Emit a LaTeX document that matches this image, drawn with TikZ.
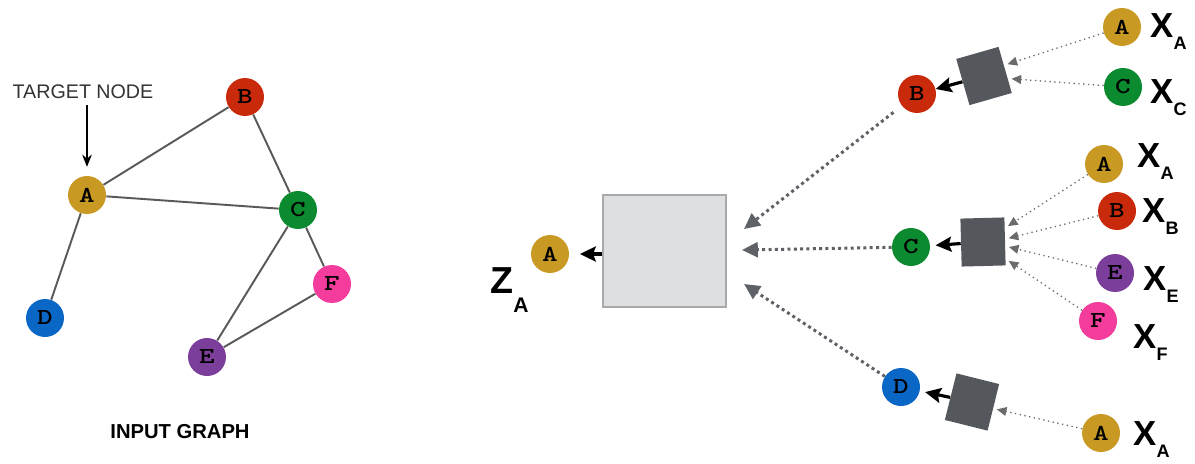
\documentclass[tikz,border=0pt]{standalone}
\usepackage{fontspec}
\setmainfont{Liberation Sans}
\usepackage{graphicx}
\usepackage{tikz}
\usetikzlibrary{arrows.meta}

\definecolor{nodeA}{HTML}{C89A24}
\definecolor{nodeB}{HTML}{C92A0C}
\definecolor{nodeC}{HTML}{0B8A2F}
\definecolor{nodeD}{HTML}{0A67C5}
\definecolor{nodeE}{HTML}{7B3E9B}
\definecolor{nodeF}{HTML}{F33C9B}
\definecolor{edgegray}{HTML}{595959}
\definecolor{boxdark}{HTML}{54575C}
\definecolor{boxlight}{HTML}{DEDFE1}
\definecolor{boxline}{HTML}{A8A9AB}
\definecolor{passgray}{HTML}{5E6166}
\definecolor{msggray}{HTML}{6B6B6B}

% wide typewriter letters inside the circles
\newcommand{\vtx}[1]{\scalebox{1.3}[1]{#1}}
\newcommand{\featlab}[2]{#1\raisebox{-7.3pt}{\fontsize{10.3}{10.3}\selectfont #2}}

\begin{document}
\begin{tikzpicture}[x=0.02cm, y=-0.02cm,
    vertex/.style={circle, minimum size=0.76cm, inner sep=0pt, font=\ttfamily\bfseries\fontsize{13}{13}\selectfont},
    edge/.style={draw=edgegray, line width=1.1pt},
    agg/.style={rectangle, fill=boxdark, minimum width=0.88cm, minimum height=0.96cm, inner sep=0pt},
    msg/.style={draw=msggray, line width=0.75pt, dotted, shorten >=2pt, -{Triangle[length=5.5pt,width=5pt]}},
    pass/.style={draw=passgray, line width=1.7pt, dash pattern=on 1.7pt off 1.9pt, -{Triangle[length=9pt,width=8.5pt]}},
    outarrow/.style={line width=1.8pt, -{Stealth[length=9pt,width=8.5pt,inset=1.5pt]}},
    feat/.style={anchor=base west, inner sep=0pt, font=\bfseries\fontsize{19.8}{20}\selectfont}]
    \useasboundingbox (0,0) rectangle (1195,463);

    % input graph
    \node (a) [vertex, fill=nodeA] at (87,195) {\vtx{A}};
    \node (b) [vertex, fill=nodeB] at (245,97) {\vtx{B}};
    \node (c) [vertex, fill=nodeC] at (298,210) {\vtx{C}};
    \node (d) [vertex, fill=nodeD] at (45,318) {\vtx{D}};
    \node (e) [vertex, fill=nodeE] at (207,357) {\vtx{E}};
    \node (f) [vertex, fill=nodeF] at (332,284) {\vtx{F}};

    \draw[edge] (a) -- (b);
    \draw[edge] (a) -- (c);
    \draw[edge] (a) -- (d);
    \draw[edge] (b) -- (c);
    \draw[edge] (c) -- (e);
    \draw[edge] (c) -- (f);
    \draw[edge] (e) -- (f);

    \node (target) [font=\fontsize{11.2}{11.2}\selectfont, text=black!80] at (83,92) {TARGET NODE};
    \draw[line width=0.75pt, -{Stealth[length=7pt,width=5.5pt]}, shorten >=5pt] (target.south -| a) -- (a);
    \node (title) [font=\bfseries\fontsize{11.5}{12}\selectfont] at (180,432) {INPUT GRAPH};

    % aggregation for the target
    \node (box) [rectangle, fill=boxlight, draw=boxline, line width=0.6pt, minimum width=2.46cm, minimum height=2.24cm] at (664.5,251) {};
    \node (za) [vertex, fill=nodeA] at (550,254) {\vtx{A}};
    \draw[outarrow, shorten >=6pt] (box.west |- za) -- (za);
    \node (zlab) [feat, font=\bfseries\fontsize{21.4}{22}\selectfont] at (490,293) {Z\raisebox{-11pt}{\fontsize{12}{12}\selectfont A}};

    \coordinate (inb) at (744,229);
    \coordinate (inc) at (742,250);
    \coordinate (ind) at (744,284);

    % neighbour B
    \node (b1) [vertex, fill=nodeB] at (917,94) {\vtx{B}};
    \node (sqb) [agg, rotate=16] at (984,76) {};
    \node (b1a) [vertex, fill=nodeA] at (1122,27) {\vtx{A}};
    \node (b1c) [vertex, fill=nodeC] at (1123,87) {\vtx{C}};
    \node [feat] at (1150,37) {\featlab{X}{A}};
    \node [feat] at (1150,103) {\featlab{X}{C}};
    \draw[msg] (b1a) -- (sqb.12);
    \draw[msg] (b1c) -- (sqb.-22);
    \draw[outarrow] (sqb) -- (b1);
    \draw[pass, shorten <=6pt] (b1) -- (inb);

    % neighbour C
    \node (c1) [vertex, fill=nodeC] at (911,247) {\vtx{C}};
    \node (sqc) [agg, rotate=1.5] at (983,242) {};
    \node (c1a) [vertex, fill=nodeA] at (1104,164) {\vtx{A}};
    \node (c1b) [vertex, fill=nodeB] at (1117,211) {\vtx{B}};
    \node (c1e) [vertex, fill=nodeE] at (1115,273) {\vtx{E}};
    \node (c1f) [vertex, fill=nodeF] at (1098,321) {\vtx{F}};
    \node [feat] at (1137,167) {\featlab{X}{A}};
    \node [feat] at (1142,222) {\featlab{X}{B}};
    \node [feat] at (1143,290) {\featlab{X}{E}};
    \node [feat] at (1133,348) {\featlab{X}{F}};
    \draw[msg] (c1a) -- (sqc.31);
    \draw[msg] (c1b) -- (sqc.6);
    \draw[msg] (c1e) -- (sqc.-12);
    \draw[msg] (c1f) -- (sqc.-38);
    \draw[outarrow, shorten >=3pt] (sqc) -- (c1);
    \draw[pass] (c1) -- (inc);

    % neighbour D
    \node (d1) [vertex, fill=nodeD] at (901,387) {\vtx{D}};
    \node (sqd) [agg, rotate=-14] at (972,402) {};
    \node (d1a) [vertex, fill=nodeA] at (1101,433) {\vtx{A}};
    \node [feat] at (1133,445) {\featlab{X}{A}};
    \draw[msg] (d1a) -- (sqd.-3);
    \draw[outarrow, shorten >=3pt] (sqd) -- (d1);
    \draw[pass] (d1) -- (ind);
\end{tikzpicture}
\end{document}
